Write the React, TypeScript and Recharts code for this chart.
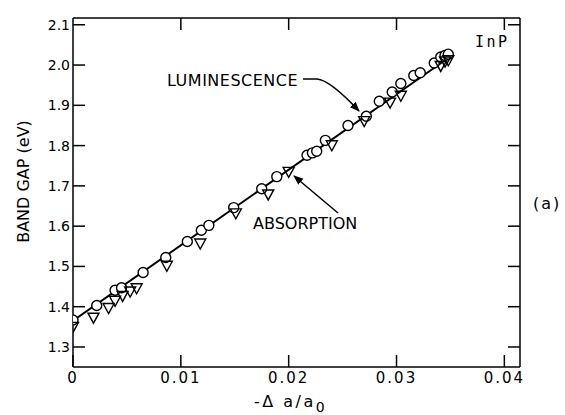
import { ScatterChart, Scatter, XAxis, YAxis } from "recharts";

// luminescence (open circles)
const lumX = [0, 0.0022, 0.0039, 0.0045, 0.0065, 0.0086, 0.0106, 0.0119, 0.0126, 0.0149, 0.0175, 0.0189, 0.0217, 0.0222, 0.0226, 0.0234, 0.0255, 0.0272, 0.0284, 0.0296, 0.0304, 0.0316, 0.0322, 0.0335, 0.0341, 0.0345, 0.0348];
const lumY = [1.367, 1.403, 1.441, 1.447, 1.485, 1.522, 1.562, 1.59, 1.602, 1.646, 1.693, 1.723, 1.776, 1.782, 1.786, 1.813, 1.85, 1.873, 1.91, 1.933, 1.954, 1.974, 1.981, 2.005, 2.02, 2.024, 2.027];

// absorption (open down-triangles)
const absX = [0, 0.0019, 0.0033, 0.0039, 0.0046, 0.0053, 0.0059, 0.0087, 0.0118, 0.0151, 0.0181, 0.02, 0.024, 0.027, 0.0294, 0.0304, 0.0341, 0.0345, 0.0348];
const absY = [1.351, 1.374, 1.398, 1.416, 1.428, 1.439, 1.447, 1.503, 1.558, 1.633, 1.68, 1.736, 1.802, 1.862, 1.908, 1.925, 1.999, 2.01, 2.013];

// straight fit line
const fitX = [0, 0.0352];
const fitY = [1.365, 2.025];

const xTicks = [0, 0.01, 0.02, 0.03, 0.04];
const yTicks = [1.3, 1.4, 1.5, 1.6, 1.7, 1.8, 1.9, 2.0, 2.1];

const lumData = lumX.map((x, i) => ({ x, y: lumY[i] }));
const absData = absX.map((x, i) => ({ x, y: absY[i] }));
const fitData = fitX.map((x, i) => ({ x, y: fitY[i] }));

const font = "'DejaVu Sans', sans-serif";
const axisStroke = { stroke: "#000", strokeWidth: 1.5 };

const Circle = (p: any) => (
  <circle cx={p.cx} cy={p.cy} r={5} fill="#fff" stroke="#000" strokeWidth={1.4} />
);

const Triangle = (p: any) => (
  <path
    d={`M${p.cx - 5.5},${p.cy - 4} L${p.cx + 5.5},${p.cy - 4} L${p.cx},${p.cy + 6} Z`}
    fill="none"
    stroke="#000"
    strokeWidth={1.4}
  />
);

const YLabel = ({ viewBox }: any) => {
  const cx = viewBox.x + 10;
  const cy = viewBox.y + viewBox.height / 2 - 11;
  return (
    <text
      x={cx}
      y={cy}
      transform={`rotate(-90 ${cx} ${cy})`}
      textAnchor="middle"
      dominantBaseline="central"
      fontFamily={font}
      fontSize={16}
      fill="#000"
    >
      BAND GAP (eV)
    </text>
  );
};

const XLabel = ({ viewBox }: any) => (
  <text
    x={viewBox.x + viewBox.width / 2 - 6}
    y={viewBox.y + 40}
    textAnchor="middle"
    fontFamily={font}
    fontSize={16}
    letterSpacing={2.5}
    fill="#000"
  >
    -Δ a/a<tspan dy={5} fontSize={14}>0</tspan>
  </text>
);

export default function App() {
  return (
    <div style={{ position: "absolute", left: 0, top: 0, width: 565, height: 415, background: "#fff" }}>
      <ScatterChart width={565} height={415} margin={{ top: 17, right: 44, bottom: 8, left: 13 }}>
        <XAxis
          type="number"
          dataKey="x"
          domain={[0, 0.04145]}
          allowDataOverflow
          ticks={xTicks}
          tickFormatter={(v) => (v === 0 ? "0" : v.toFixed(2))}
          height={40}
          axisLine={axisStroke}
          tickLine={axisStroke}
          tickSize={-12}
          tickMargin={17}
          tick={{ fill: "#000", fontSize: 15, fontFamily: font, letterSpacing: 2 }}
          label={<XLabel />}
        />
        <XAxis
          xAxisId="top"
          orientation="top"
          type="number"
          dataKey="x"
          domain={[0, 0.04145]}
          allowDataOverflow
          ticks={xTicks.slice(1)}
          tickFormatter={() => ""}
          height={1}
          axisLine={axisStroke}
          tickLine={axisStroke}
          tickSize={-12}
        />
        <YAxis
          type="number"
          dataKey="y"
          domain={[1.2503, 2.1168]}
          allowDataOverflow
          ticks={yTicks}
          tickFormatter={(v) => v.toFixed(1)}
          width={60}
          axisLine={axisStroke}
          tickLine={axisStroke}
          tickSize={-12}
          tickMargin={15}
          tick={{ fill: "#000", fontSize: 14, fontFamily: font }}
          label={<YLabel />}
        />
        <YAxis
          yAxisId="right"
          orientation="right"
          type="number"
          dataKey="y"
          domain={[1.2503, 2.1168]}
          allowDataOverflow
          ticks={yTicks}
          tickFormatter={() => ""}
          width={1}
          axisLine={axisStroke}
          tickLine={axisStroke}
          tickSize={-12}
        />
        <Scatter
          data={fitData}
          line={{ stroke: "#000", strokeWidth: 2 }}
          shape={() => <g />}
          isAnimationActive={false}
        />
        <Scatter data={lumData} shape={<Circle />} isAnimationActive={false} />
        <Scatter data={absData} shape={<Triangle />} isAnimationActive={false} />
      </ScatterChart>
      <svg
        width={565}
        height={415}
        style={{ position: "absolute", left: 0, top: 0, pointerEvents: "none" }}
        fontFamily={font}
      >
        <defs>
          <marker id="head" viewBox="0 0 10 10" refX="9" refY="5" markerWidth="10" markerHeight="10" markerUnits="userSpaceOnUse" orient="auto">
            <path d="M0,1 L10,5 L0,9 Z" fill="#000" />
          </marker>
        </defs>
        <text x={167} y={86} fontSize={16} letterSpacing={0.5} fill="#000">LUMINESCENCE</text>
        <path d="M303,79 L317,79 Q330,80 359,111" fill="none" stroke="#000" strokeWidth={1.5} markerEnd="url(#head)" />
        <text x={253} y={229} fontSize={16} fill="#000">ABSORPTION</text>
        <path d="M338,213 L294,176" fill="none" stroke="#000" strokeWidth={1.5} markerEnd="url(#head)" />
        <text x={475} y={47} fontSize={15} letterSpacing={2.5} fontFamily="'DejaVu Sans Mono', monospace" fill="#000">InP</text>
        <text x={533} y={209} fontSize={16} letterSpacing={2} fill="#000">(a)</text>
      </svg>
    </div>
  );
}
